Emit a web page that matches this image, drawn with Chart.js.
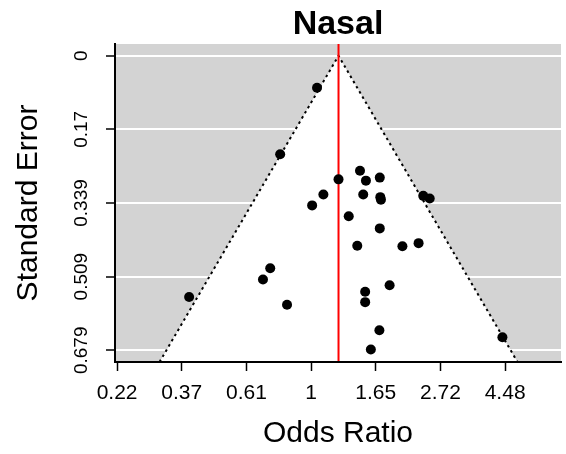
<!DOCTYPE html>
<html>
<head>
<meta charset="utf-8">
<script src="https://cdn.jsdelivr.net/npm/chart.js@4.4.1/dist/chart.umd.min.js"></script>
<style>
  html, body { margin: 0; padding: 0; background: #fff; }
  #wrap { width: 566px; height: 454px; position: relative; }
</style>
</head>
<body>
<div id="wrap"><canvas id="c"></canvas></div>
<script>
// ---- data ----
const chartTitle = 'Nasal';
const xTitle = 'Odds Ratio';
const yTitle = 'Standard Error';
// log odds ratios of the studies
const logOR = [0.046, -0.239, 0.212, 0.378, 0.424, 0.531, 0.095, 0.403, 0.535, 0.540,
               0.008, 0.867, 0.917, 0.291, 0.531, 0.357, 0.706, 0.831, -0.316, -0.372,
               -0.943, -0.186, 0.607, 0.418, 0.418, 0.528, 0.462, 1.479];
// standard errors of the studies
const stdErr = [0.074, 0.227, 0.285, 0.265, 0.288, 0.281, 0.320, 0.320, 0.326, 0.332,
                0.345, 0.323, 0.329, 0.370, 0.398, 0.438, 0.439, 0.432, 0.490, 0.516,
                0.556, 0.574, 0.529, 0.544, 0.568, 0.633, 0.677, 0.649];
const estimate = 0.212;          // pooled log odds ratio (red line)
const xTickValues = [-1.5, -1, -0.5, 0, 0.5, 1, 1.5];
const xTickLabels = ['0.22', '0.37', '0.61', '1', '1.65', '2.72', '4.48'];
const yTickValues = [0, 0.16975, 0.3395, 0.50925, 0.679];
const yTickLabels = ['0', '0.17', '0.339', '0.509', '0.679'];
const xRange = [-1.516, 1.932];
const yRange = [-0.027, 0.706];

// ---- derived structures ----
const points = logOR.map((v, i) => ({ x: v, y: stdErr[i] }));
const yBottom = yRange[1];
const funnel = [
  { x: estimate - 1.96 * yBottom, y: yBottom },
  { x: estimate, y: 0 },
  { x: estimate + 1.96 * yBottom, y: yBottom }
];
const centerLine = [{ x: estimate, y: yRange[0] }, { x: estimate, y: yRange[1] }];

const FONT = "'Liberation Sans', Arial, Helvetica, sans-serif";

const bgPlugin = {
  id: 'greyBg',
  beforeDraw(chart) {
    const a = chart.chartArea, ctx = chart.ctx;
    ctx.save();
    ctx.fillStyle = '#D3D3D3';
    ctx.fillRect(a.left, a.top, a.right - a.left, a.bottom - a.top);
    ctx.restore();
  }
};

new Chart(document.getElementById('c'), {
  type: 'scatter',
  data: {
    datasets: [
      { label: 'studies', data: points, order: 0, showLine: false,
        pointRadius: 5, pointHoverRadius: 5, pointBackgroundColor: '#000',
        pointBorderWidth: 0, backgroundColor: '#000', borderColor: '#000' },
      { label: 'estimate', data: centerLine, order: 1, showLine: true,
        borderColor: '#FF0000', borderWidth: 2, pointRadius: 0, fill: false },
      { label: 'funnel lines', data: funnel, order: 2, showLine: true,
        borderColor: '#000', borderWidth: 2, borderDash: [2.5, 3.5], pointRadius: 0,
        fill: false, tension: 0 },
      { label: 'funnel area', data: funnel, order: 3, showLine: true,
        borderWidth: 0, borderColor: 'rgba(0,0,0,0)', pointRadius: 0,
        backgroundColor: '#FFFFFF', fill: { value: yBottom }, tension: 0 }
    ]
  },
  options: {
    responsive: true,
    maintainAspectRatio: false,
    animation: false,
    events: [],
    layout: { padding: { top: 0, right: 0, bottom: 0, left: 0 } },
    plugins: {
      legend: { display: false },
      tooltip: { enabled: false },
      title: {
        display: true, text: chartTitle, fullSize: false, color: '#000',
        font: { family: FONT, size: 34, weight: 'bold', lineHeight: 1 },
        padding: { top: 8, bottom: 2 }
      }
    },
    scales: {
      x: {
        type: 'linear', position: 'bottom',
        min: xRange[0], max: xRange[1],
        afterBuildTicks(s) { s.ticks = xTickValues.map(v => ({ value: v })); },
        afterFit(s) { s.height = 92; },
        ticks: {
          autoSkip: false, maxRotation: 0, minRotation: 0, padding: 10,
          color: '#000', font: { family: FONT, size: 21 },
          callback(v, i) { return xTickLabels[i]; }
        },
        grid: { drawOnChartArea: false, drawTicks: true, tickLength: 9,
                tickColor: '#000', tickWidth: 1.5 },
        border: { display: true, color: '#000', width: 2, z: 1 },
        title: { display: true, text: xTitle, color: '#000',
                 font: { family: FONT, size: 30 }, padding: { top: 0, bottom: 2 } }
      },
      y: {
        type: 'linear', position: 'left', reverse: true,
        min: yRange[0], max: yRange[1],
        afterBuildTicks(s) { s.ticks = yTickValues.map(v => ({ value: v })); },
        afterFit(s) { s.width = 115; },
        ticks: {
          autoSkip: false, minRotation: 90, maxRotation: 90, padding: 0,
          crossAlign: 'center',
          color: '#000', font: { family: FONT, size: 19 },
          callback(v, i) { return yTickLabels[i]; }
        },
        grid: { color: '#FFFFFF', lineWidth: 2, drawTicks: true, tickLength: 9,
                tickColor: '#000', tickWidth: 1.5 },
        border: { display: true, color: '#000', width: 2, z: 1 },
        title: { display: true, text: yTitle, color: '#000',
                 font: { family: FONT, size: 30 }, padding: { top: 11, bottom: 0 } }
      }
    }
  },
  plugins: [bgPlugin]
});
</script>
</body>
</html>
